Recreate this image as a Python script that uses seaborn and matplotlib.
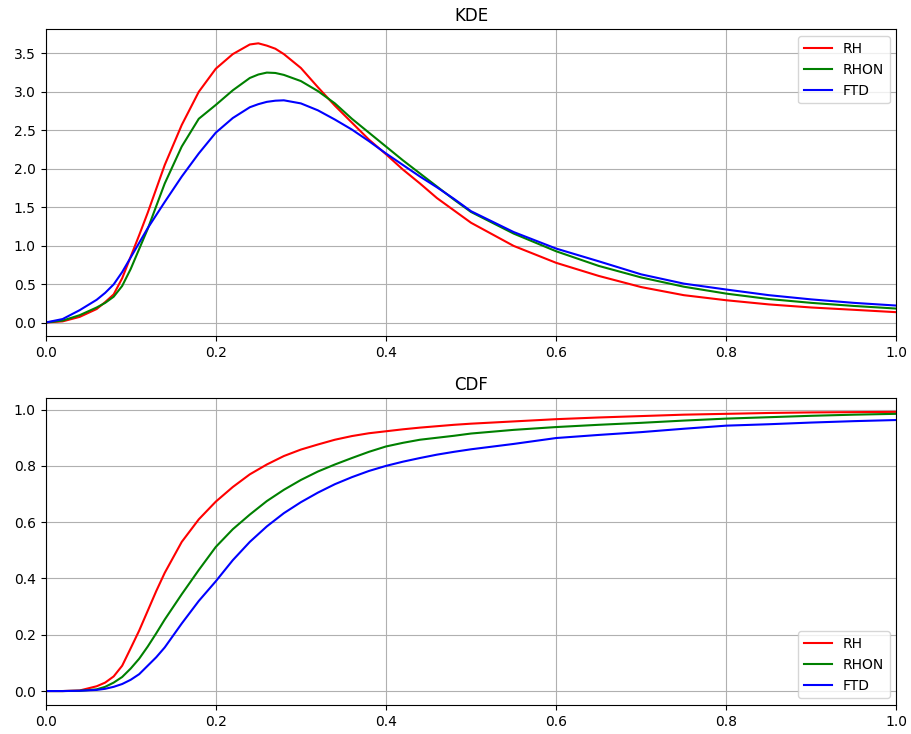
import matplotlib
matplotlib.use("Agg")
import matplotlib.pyplot as plt
import pandas as pd
import seaborn as sns

methods = ["RH", "RHON", "FTD"]
colors = {"RH": "red", "RHON": "green", "FTD": "blue"}

# Kernel density estimates
x_kde = [0.00, 0.02, 0.04, 0.06, 0.07, 0.08, 0.09, 0.10, 0.11, 0.12,
         0.14, 0.16, 0.18, 0.20, 0.22, 0.24, 0.25, 0.26, 0.27, 0.28,
         0.30, 0.32, 0.34, 0.36, 0.38, 0.40, 0.42, 0.44, 0.46, 0.48,
         0.50, 0.55, 0.60, 0.65, 0.70, 0.75, 0.80, 0.85, 0.90, 0.95, 1.00]
kde_rh = [0.005, 0.02, 0.078, 0.18, 0.27, 0.37, 0.58, 0.86, 1.14, 1.43,
          2.05, 2.57, 3.00, 3.30, 3.49, 3.615, 3.63, 3.60, 3.56, 3.49,
          3.31, 3.06, 2.82, 2.60, 2.38, 2.19, 1.99, 1.81, 1.62, 1.46,
          1.30, 1.00, 0.78, 0.61, 0.465, 0.36, 0.294, 0.24, 0.20, 0.17, 0.139]
kde_rhon = [0.005, 0.03, 0.10, 0.20, 0.26, 0.34, 0.48, 0.70, 0.96, 1.22,
            1.81, 2.29, 2.65, 2.83, 3.02, 3.18, 3.225, 3.25, 3.245, 3.22,
            3.14, 3.01, 2.85, 2.65, 2.47, 2.29, 2.11, 1.94, 1.77, 1.60,
            1.44, 1.16, 0.93, 0.74, 0.59, 0.47, 0.38, 0.31, 0.26, 0.22, 0.186]
kde_ftd = [0.005, 0.05, 0.165, 0.30, 0.39, 0.50, 0.66, 0.85, 1.04, 1.23,
           1.57, 1.90, 2.20, 2.47, 2.66, 2.80, 2.84, 2.87, 2.885, 2.89,
           2.85, 2.76, 2.64, 2.51, 2.36, 2.20, 2.05, 1.90, 1.76, 1.61,
           1.45, 1.18, 0.965, 0.80, 0.63, 0.51, 0.433, 0.36, 0.305, 0.26, 0.225]

# Cumulative distribution functions
x_cdf = [0.00, 0.02, 0.04, 0.06, 0.07, 0.08, 0.09, 0.10, 0.11, 0.12,
         0.13, 0.14, 0.16, 0.18, 0.20, 0.22, 0.24, 0.26, 0.28, 0.30,
         0.32, 0.34, 0.36, 0.38, 0.40, 0.42, 0.44, 0.46, 0.48, 0.50,
         0.55, 0.60, 0.65, 0.70, 0.75, 0.80, 0.85, 0.90, 0.95, 1.00]
cdf_rh = [0.0, 0.0, 0.002, 0.017, 0.03, 0.052, 0.09, 0.152, 0.215, 0.285,
          0.355, 0.42, 0.53, 0.61, 0.673, 0.725, 0.77, 0.805, 0.835, 0.858,
          0.876, 0.893, 0.906, 0.916, 0.923, 0.930, 0.936, 0.941, 0.946, 0.950,
          0.958, 0.966, 0.972, 0.977, 0.982, 0.985, 0.988, 0.990, 0.991, 0.992]
cdf_rhon = [0.0, 0.0, 0.001, 0.006, 0.015, 0.03, 0.05, 0.08, 0.115, 0.158,
            0.205, 0.254, 0.344, 0.43, 0.512, 0.575, 0.627, 0.675, 0.715, 0.75,
            0.78, 0.805, 0.828, 0.85, 0.869, 0.882, 0.893, 0.90, 0.907, 0.915,
            0.928, 0.938, 0.946, 0.953, 0.961, 0.968, 0.973, 0.978, 0.982, 0.985]
cdf_ftd = [0.0, 0.0, 0.001, 0.004, 0.008, 0.015, 0.025, 0.04, 0.06, 0.09,
           0.12, 0.155, 0.24, 0.32, 0.39, 0.465, 0.53, 0.585, 0.632, 0.671,
           0.705, 0.735, 0.76, 0.782, 0.80, 0.815, 0.828, 0.84, 0.85, 0.859,
           0.878, 0.899, 0.91, 0.92, 0.932, 0.943, 0.948, 0.954, 0.959, 0.963]


def long_form(xs, series):
    frames = [pd.DataFrame({"x": xs, "y": vals, "method": name})
              for name, vals in zip(methods, series)]
    return pd.concat(frames, ignore_index=True)


kde_df = long_form(x_kde, [kde_rh, kde_rhon, kde_ftd])
cdf_df = long_form(x_cdf, [cdf_rh, cdf_rhon, cdf_ftd])

fig, (ax1, ax2) = plt.subplots(2, 1, figsize=(9.12, 7.34), dpi=100)
fig.subplots_adjust(left=0.050, right=0.983, top=0.960, bottom=0.0395,
                    hspace=0.2)

panels = [(ax1, kde_df, "KDE", "upper right"),
          (ax2, cdf_df, "CDF", "lower right")]
for ax, df, title, loc in panels:
    for name in methods:
        sub = df[df["method"] == name]
        sns.lineplot(data=sub, x="x", y="y", ax=ax, color=colors[name],
                     label=name, linewidth=1.5, estimator=None)
    ax.set_xlim(0, 1)
    ax.set_title(title, fontsize=12)
    ax.set_xlabel("")
    ax.set_ylabel("")
    ax.grid(True, color="#b0b0b0", linewidth=0.8)
    ax.legend(loc=loc, fontsize=10)

fig.savefig("out.png", dpi=100)
